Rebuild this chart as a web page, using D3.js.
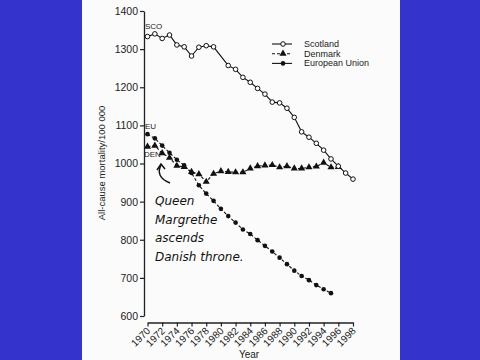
<!DOCTYPE html>
<html><head><meta charset="utf-8">
<script src="https://cdn.jsdelivr.net/npm/d3@7"></script>
<style>
html,body{margin:0;padding:0;background:#3434cc;}
svg{display:block;}
</style></head>
<body>
<svg id="c" width="480" height="360"></svg>
<script>
// ---- data ----
const scotlandYears = [1970,1971,1972,1973,1974,1975,1976,1977,1978,1979,1981,1982,1983,1984,1985,1986,1987,1988,1989,1990,1991,1992,1993,1994,1995,1996,1997,1998];
const scotlandValues = [1333,1340,1328,1337,1311,1306,1282,1305,1309,1306,1257,1247,1226,1213,1197,1182,1161,1159,1145,1121,1083,1069,1053,1035,1012,993,975,959];
const denmarkYears = [1970,1971,1972,1973,1974,1975,1976,1977,1978,1979,1980,1981,1982,1983,1984,1985,1986,1987,1988,1989,1990,1991,1992,1993,1994,1995,1996];
const denmarkValues = [1044,1047,1027,1015,994,991,978,972,952,973,980,978,977,977,987,993,995,996,990,993,987,987,990,992,1002,990,991];
const euYears = [1970,1971,1972,1973,1974,1975,1976,1977,1978,1979,1980,1981,1982,1983,1984,1985,1986,1987,1988,1989,1990,1991,1992,1993,1994,1995];
const euValues = [1077,1066,1047,1028,1010,995,975,943,921,902,881,862,845,827,815,799,784,769,753,736,719,705,694,681,670,660];
const yTicks = [600,700,800,900,1000,1100,1200,1300,1400];
const xTicks = [1970,1972,1974,1976,1978,1980,1982,1984,1986,1988,1990,1992,1994,1996,1998];
const legendLabels = ["Scotland","Denmark","European Union"];
const seriesTags = ["SCO","DEN","EU"];
const noteLines = ["Queen","Margrethe","ascends","Danish throne."];
const yTitle = "All-cause mortality/100 000";
const xTitle = "Year";

const svg = d3.select("#c");
svg.append("rect").attr("x",82).attr("y",0).attr("width",318).attr("height",360).attr("fill","#fbfbfb");

const x = d3.scaleLinear().domain([1970,1998]).range([147.5,353]);
const y = d3.scaleLinear().domain([600,1400]).range([316,11]);
const font = "Liberation Sans, Arial, sans-serif";

// y axis
const ya = svg.append("g").attr("transform","translate(144,0)")
  .call(d3.axisLeft(y).tickValues(yTicks).tickFormat(d3.format("d")).tickSize(4).tickSizeOuter(0).tickPadding(2));
ya.select(".domain").attr("stroke","#222").attr("stroke-width",1.3);
ya.selectAll(".tick line").attr("stroke","#222").attr("stroke-width",1.2);
ya.selectAll("text").attr("font-family",font).attr("font-size",10.5).attr("fill","#222");

// x axis
const xa = svg.append("g").attr("transform","translate(0,322.5)")
  .call(d3.axisBottom(x).tickValues(xTicks).tickFormat(d3.format("d")).tickSize(4).tickSizeOuter(0));
xa.select(".domain").attr("stroke","#222").attr("stroke-width",1.3);
xa.selectAll(".tick line").attr("stroke","#222").attr("stroke-width",1.2);
xa.selectAll("text").attr("font-family",font).attr("font-size",10).attr("fill","#222")
  .attr("text-anchor","end").attr("dy",0).attr("y",0)
  .attr("transform","translate(3,9) rotate(-45)");

svg.append("text").attr("x",249).attr("y",358).attr("text-anchor","middle")
  .attr("font-family",font).attr("font-size",10).attr("fill","#222").text(xTitle);
svg.append("text").attr("transform","translate(105,163) rotate(-90)").attr("text-anchor","middle")
  .attr("font-family",font).attr("font-size",9.5).attr("fill","#222").text(yTitle);

const sco = scotlandYears.map((d,i)=>[d,scotlandValues[i]]);
const den = denmarkYears.map((d,i)=>[d,denmarkValues[i]]);
const eu = euYears.map((d,i)=>[d,euValues[i]]);
const line = d3.line().x(d=>x(d[0])).y(d=>y(d[1]));

// Denmark
svg.append("path").attr("d",line(den)).attr("fill","none").attr("stroke","#111").attr("stroke-width",1.1).attr("stroke-dasharray","3,2");
const tri = d3.symbol().type(d3.symbolTriangle).size(22);
svg.selectAll(".den").data(den).enter().append("path")
  .attr("d",tri).attr("transform",d=>`translate(${x(d[0])},${y(d[1])})`).attr("fill","#111");

// EU
svg.append("path").attr("d",line(eu)).attr("fill","none").attr("stroke","#111").attr("stroke-width",1.1).attr("stroke-dasharray","3,2");
svg.selectAll(".eu").data(eu).enter().append("circle")
  .attr("cx",d=>x(d[0])).attr("cy",d=>y(d[1])).attr("r",2.3).attr("fill","#111");

// Scotland
svg.append("path").attr("d",line(sco)).attr("fill","none").attr("stroke","#111").attr("stroke-width",1.1);
svg.selectAll(".sco").data(sco).enter().append("circle")
  .attr("cx",d=>x(d[0])).attr("cy",d=>y(d[1])).attr("r",2.3).attr("fill","#fff").attr("stroke","#111").attr("stroke-width",1);

// tags
const tagPos = [[145,29],[144,157],[145,129]];
seriesTags.forEach((t,i)=>svg.append("text").attr("x",tagPos[i][0]).attr("y",tagPos[i][1])
  .attr("font-family",font).attr("font-size",8).attr("fill","#222").text(t));

// legend
const lg = svg.append("g");
legendLabels.forEach((t,i)=>{
  const yy = 44 + i*9.7;
  lg.append("line").attr("x1",272).attr("x2",292).attr("y1",yy).attr("y2",yy)
    .attr("stroke","#111").attr("stroke-width",1.1).attr("stroke-dasharray",i===1?"3,2":null);
  if(i===0) lg.append("circle").attr("cx",283).attr("cy",yy).attr("r",2.3).attr("fill","#fff").attr("stroke","#111");
  if(i===1) lg.append("path").attr("d",tri).attr("transform",`translate(283,${yy})`).attr("fill","#111");
  if(i===2) lg.append("circle").attr("cx",283).attr("cy",yy).attr("r",2.3).attr("fill","#111");
  lg.append("text").attr("x",304).attr("y",yy+3).attr("font-family",font).attr("font-size",9).attr("fill","#222").text(t);
});

// handwritten note
noteLines.forEach((t,i)=>svg.append("text").attr("x",155).attr("y",205+i*18.5)
  .attr("font-family","DejaVu Sans, sans-serif").attr("font-size",12).attr("font-style","italic")
  .attr("fill","#111").text(t));
svg.append("path").attr("d","M170,183 Q155,177 161,165").attr("fill","none").attr("stroke","#111").attr("stroke-width",1.5);
svg.append("path").attr("d","M157,170 L161,164 L165,169").attr("fill","none").attr("stroke","#111").attr("stroke-width",1.5);
</script>
</body></html>
